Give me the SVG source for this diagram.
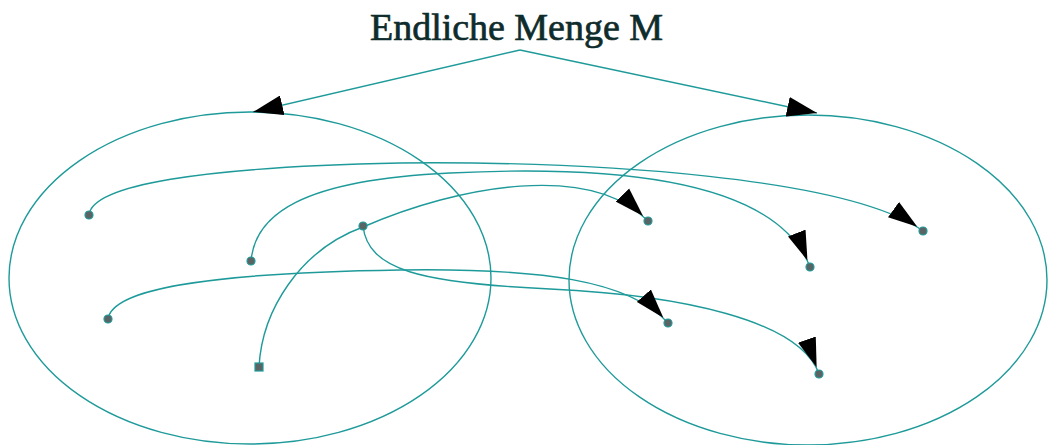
<svg xmlns="http://www.w3.org/2000/svg" width="1048" height="445" viewBox="0 0 1048 445">
<style>
.ln{fill:none;stroke:#1f9a9a;stroke-width:1.4}
.set{fill:none;stroke:#1f9a9a;stroke-width:1.4}
.dot{fill:#5a6464;stroke:#1f9a9a;stroke-width:1.2}
.title{font-family:"Liberation Serif","Times New Roman",serif;font-size:38px;fill:#0f2c2c;stroke:#0f2c2c;stroke-width:0.7}
</style>
<defs>
<marker id="ah" markerUnits="userSpaceOnUse" markerWidth="40" markerHeight="20" viewBox="0 0 34 16" refX="31" refY="8" orient="auto">
<path d="M0,0 L25,8 L0,16 Z" fill="#000"/>
</marker>
<marker id="ah0" markerUnits="userSpaceOnUse" markerWidth="30" markerHeight="20" viewBox="0 0 27 18" refX="27" refY="9" orient="auto">
<path d="M0,0 L27,9 L0,18 Z" fill="#000"/>
</marker>
</defs>
<rect width="1048" height="445" fill="#fff"/>
<g id="title"><text class="title" x="370" y="40" textLength="293" lengthAdjust="spacingAndGlyphs">Endliche Menge M</text></g>
<g id="setLeft"><ellipse class="set" cx="250" cy="278" rx="241" ry="166"/></g>
<g id="setRight"><ellipse class="set" cx="808" cy="280" rx="239" ry="165"/></g>
<g id="connectors">
<path class="ln" d="M520,50 L253,112" marker-end="url(#ah0)"/>
<path class="ln" d="M520,50 L817,113" marker-end="url(#ah0)"/>
<path class="ln" d="M89,215 C92,185 200,167 400,163 C600,161 850,178 923,231" marker-end="url(#ah)"/>
<path class="ln" d="M251,261 C255,215 300,180 450,173 C650,163 780,190 810,267" marker-end="url(#ah)"/>
<path class="ln" d="M259,367 C262,310 300,250 363,227 C460,185 590,162 648,221" marker-end="url(#ah)"/>
<path class="ln" d="M363,226 C368,270 420,283 550,289 C680,295 800,320 819,374" marker-end="url(#ah)"/>
<path class="ln" d="M108,319 C112,290 200,273 400,270 C540,268 630,280 668,323" marker-end="url(#ah)"/>
</g>
<g id="nodeA"><circle class="dot" cx="89" cy="215" r="4"/></g>
<g id="nodeB"><circle class="dot" cx="251" cy="261" r="4"/></g>
<g id="nodeC"><circle class="dot" cx="108" cy="319" r="4"/></g>
<g id="nodeD"><rect class="dot" x="255" y="363" width="8" height="8"/></g>
<g id="nodeE"><circle class="dot" cx="363" cy="226" r="4"/></g>
<g id="nodeF"><circle class="dot" cx="648" cy="221" r="4"/></g>
<g id="nodeG"><circle class="dot" cx="810" cy="267" r="4"/></g>
<g id="nodeH"><circle class="dot" cx="923" cy="231" r="4"/></g>
<g id="nodeI"><circle class="dot" cx="668" cy="323" r="4"/></g>
<g id="nodeJ"><circle class="dot" cx="819" cy="374" r="4"/></g>
</svg>
